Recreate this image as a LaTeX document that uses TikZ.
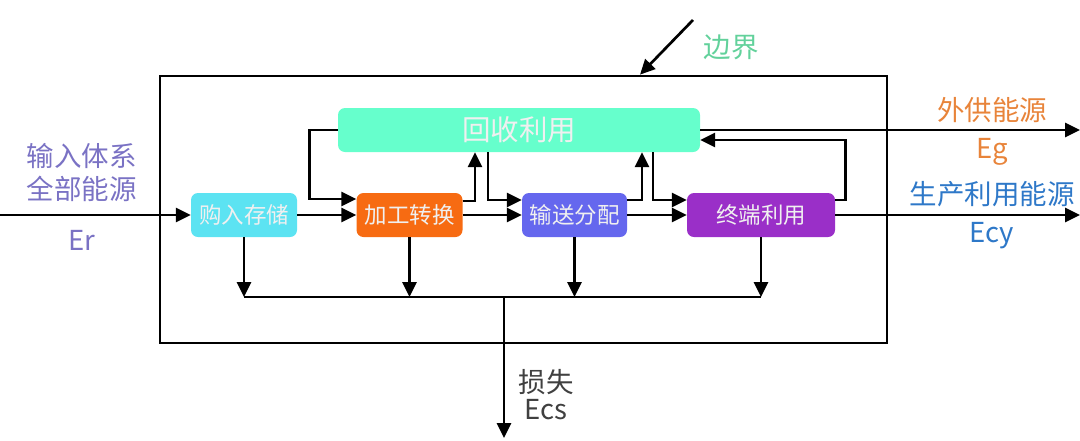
\documentclass[tikz,border=0pt]{standalone}
\usepackage{fontspec}
\setmainfont{Noto Sans CJK SC}
\usetikzlibrary{arrows.meta}
\definecolor{tuerkis}{HTML}{5CE3F2}
\definecolor{orange}{HTML}{F76B12}
\definecolor{blau}{HTML}{6567EE}
\definecolor{violett}{HTML}{9A2FC8}
\definecolor{mint}{HTML}{66FFCC}
\definecolor{lila}{HTML}{7A72C4}
\definecolor{ocker}{HTML}{E8843A}
\definecolor{stahl}{HTML}{2E78C8}
\definecolor{gruen}{HTML}{62D19B}
\begin{document}
\begin{tikzpicture}[x=1pt,y=-1pt,
    kasten/.style={rounded corners=7pt, text=white!94!black, inner sep=0pt, minimum height=44pt, font=\fontsize{22.5}{22.5}\selectfont},
    linie/.style={line width=2.7pt},
    pfeil/.style={line width=2.7pt, -{Triangle[length=15pt,width=14pt]}},
    beschr/.style={font=\fontsize{27.5}{33}\selectfont, align=center}]
  \useasboundingbox (0,0) rectangle (1080,440);
  \node[draw, line width=2.7pt, minimum width=727pt, minimum height=267pt, inner sep=0pt] (grenze) at (523.5,209.5) {};
  \node[kasten, fill=mint, minimum width=362pt, font=\fontsize{28.5}{28.5}\selectfont] (recycling) at (519,130) {回收利用};
  \node[kasten, fill=tuerkis, minimum width=106pt] (einkauf) at (244,215) {购入存储};
  \node[kasten, fill=orange, minimum width=106pt] (umwandlung) at (409.5,215) {加工转换};
  \node[kasten, fill=blau, minimum width=105pt] (verteilung) at (574.5,215) {输送分配};
  \node[kasten, fill=violett, minimum width=148pt] (endnutzung) at (761,215) {终端利用};
  \coordinate (quelle) at (0,215);
  \coordinate (extern) at (1080,130);
  \coordinate (ausgang) at (1080,215);
  \coordinate (sammel) at (504,297);
  \coordinate (verlust) at (504,438);
  \coordinate (zeiger) at (693,20);
  \draw[pfeil] (quelle) -- (einkauf);
  \draw[pfeil] (einkauf) -- (umwandlung);
  \draw[pfeil] (umwandlung) -- (verteilung);
  \draw[pfeil] (verteilung) -- (endnutzung);
  \draw[pfeil] (endnutzung) -- (ausgang);
  \draw[pfeil] (recycling.east) -- (extern);
  \draw[pfeil] (recycling.west) -- ++(-28,0) |- ([yshift=16pt]umwandlung.west);
  \draw[pfeil] ([yshift=14pt]umwandlung.east) -| ([xshift=-44pt]recycling.south);
  \draw[pfeil] ([xshift=-31pt]recycling.south) |- ([yshift=15pt]verteilung.west);
  \draw[pfeil] ([yshift=15pt]verteilung.east) -| ([xshift=123pt]recycling.south);
  \draw[pfeil] ([xshift=134pt]recycling.south) |- ([yshift=15pt]endnutzung.west);
  \draw[pfeil] ([yshift=15pt]endnutzung.east) -- ++(10,0) |- ([yshift=-10pt]recycling.east);
  \foreach \k in {einkauf,umwandlung,verteilung,endnutzung}
    \draw[pfeil] (\k.south) -- (\k.south |- sammel);
  \draw[linie] (einkauf.south |- sammel) -- (endnutzung.south |- sammel);
  \draw[pfeil] (sammel) -- (verlust);
  \draw[pfeil] (zeiger) -- ([xshift=116.5pt]grenze.north);
  \node[beschr, text=lila] (eingang) at (82,173) {输入体系\\全部能源};
  \node[beschr, text=lila] (er) at (82,240) {Er};
  \node[beschr, text=ocker] (extern text) at (992,110) {外供能源};
  \node[beschr, text=ocker] (eg) at (992,152) {Eg};
  \node[beschr, text=stahl] (ausgang text) at (992,194) {生产利用能源};
  \node[beschr, text=stahl] (ecy) at (992,236) {Ecy};
  \node[beschr, text=black!75] (verlust text) at (546,382) {损失};
  \node[beschr, text=black!75] (ecs) at (546,410) {Ecs};
  \node[beschr, text=gruen] (grenze text) at (731,47) {边界};
\end{tikzpicture}
\end{document}
